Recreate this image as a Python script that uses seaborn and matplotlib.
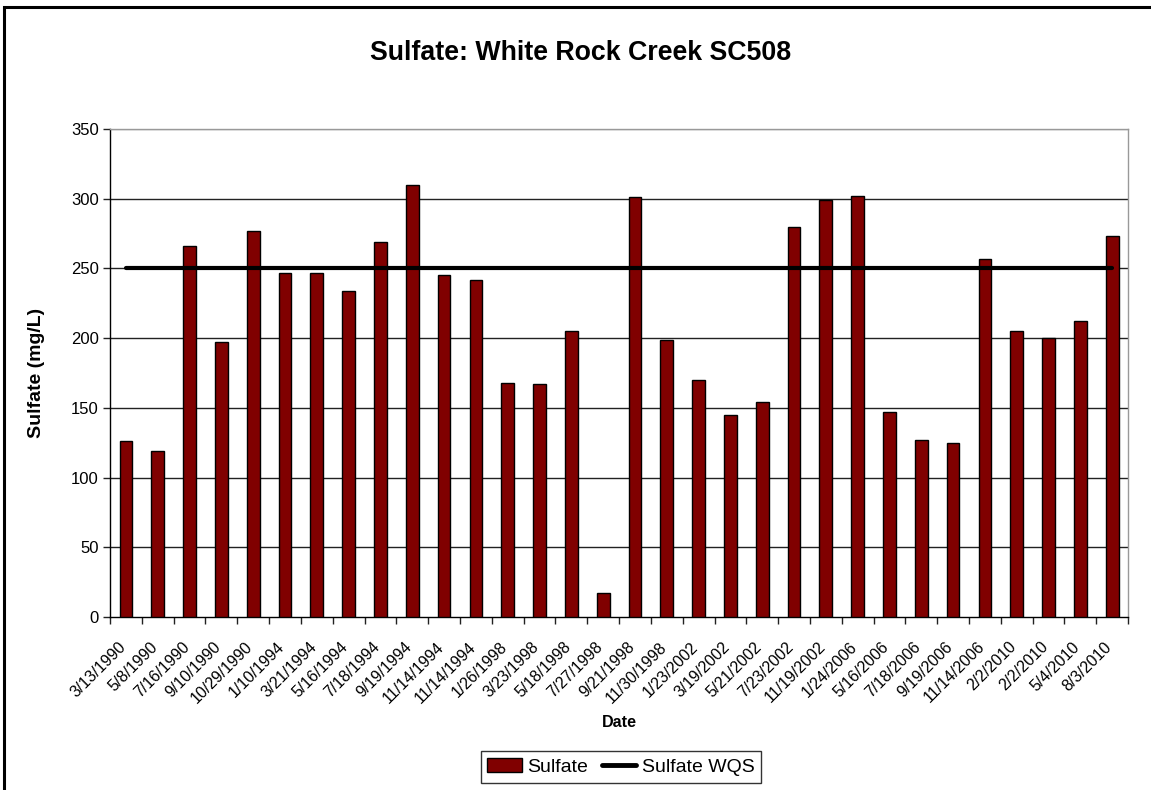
import numpy as np
import pandas as pd
import matplotlib
matplotlib.use('Agg')
import matplotlib.pyplot as plt
import matplotlib.transforms as mtransforms
from matplotlib.patches import Patch, Rectangle
from matplotlib.lines import Line2D
from matplotlib.ticker import FixedLocator, MultipleLocator
import seaborn as sns

# Sample dates (two of them repeat, so bars are placed by position, not by label)
dates = ['3/13/1990', '5/8/1990', '7/16/1990', '9/10/1990', '10/29/1990',
         '1/10/1994', '3/21/1994', '5/16/1994', '7/18/1994', '9/19/1994',
         '11/14/1994', '11/14/1994', '1/26/1998', '3/23/1998', '5/18/1998',
         '7/27/1998', '9/21/1998', '11/30/1998', '1/23/2002', '3/19/2002',
         '5/21/2002', '7/23/2002', '11/19/2002', '1/24/2006', '5/16/2006',
         '7/18/2006', '9/19/2006', '11/14/2006', '2/2/2010', '2/2/2010',
         '5/4/2010', '8/3/2010']
sulfate = [126, 119, 266, 197, 277, 247, 247, 234, 269, 310,
           245, 242, 168, 167, 205, 17, 301, 199, 170, 145,
           154, 280, 299, 302, 147, 127, 125, 257, 205, 200,
           212, 273]
wqs = 250

sns.set_style('white')
plt.rcParams['font.family'] = ['Liberation Sans', 'DejaVu Sans']
plt.rcParams['text.color'] = 'black'
plt.rcParams['axes.labelcolor'] = 'black'
plt.rcParams['xtick.color'] = 'black'
plt.rcParams['ytick.color'] = 'black'

df = pd.DataFrame({'pos': np.arange(len(dates)), 'date': dates, 'sulfate': sulfate})

fig = plt.figure(figsize=(11.51, 7.9), dpi=100)
ax = fig.add_axes([0.0956, 0.219, 0.8845, 0.6177])

# Bars
sns.barplot(data=df, x='pos', y='sulfate', color='#800000', width=0.4,
            edgecolor='black', linewidth=1, saturation=1, ax=ax, zorder=3)

# Water quality standard line, from first to last sample
ax.plot([df['pos'].iloc[0], df['pos'].iloc[-1]], [wqs, wqs], color='black',
        linewidth=3, solid_capstyle='round', zorder=4)

ax.set_xlim(-0.5, len(dates) - 0.5)
ax.set_ylim(0, 350)
ax.yaxis.set_major_locator(MultipleLocator(50))

# gridlines
for v in range(50, 351, 50):
    ax.axhline(v, color='#999999' if v == 350 else '#222222', linewidth=1, zorder=1)

# x labels at bar centres, tick marks between categories
ax.set_xticks(df['pos'])
ax.xaxis.set_minor_locator(FixedLocator(np.arange(-0.5, len(dates), 1)))
ax.tick_params(axis='x', which='major', length=0, pad=16)
ax.tick_params(axis='x', which='minor', length=5, width=1, color='#222222', direction='out', bottom=True)
ax.tick_params(axis='y', length=5, width=1, color='#222222', direction='out', left=True,
               labelsize=12, pad=3)
ax.set_xticklabels(df['date'], rotation=45, ha='right', va='top',
                   rotation_mode='anchor', fontsize=11.5)
# nudge the rotated labels left (after tick_params, which resets transforms)
shift = mtransforms.ScaledTranslation(-8 / 100, 0, fig.dpi_scale_trans)
for lab in ax.get_xticklabels():
    lab.set_transform(lab.get_transform() + shift)

for side in ['top', 'right']:
    ax.spines[side].set_color('#999999')
    ax.spines[side].set_linewidth(1)
for side in ['left', 'bottom']:
    ax.spines[side].set_color('black')
    ax.spines[side].set_linewidth(1)

ax.set_xlabel('Date', fontsize=11.6, fontweight='bold')
ax.set_ylabel('Sulfate (mg/L)', fontsize=14, fontweight='bold')
ax.xaxis.set_label_coords(0.5, -0.217)
ax.xaxis.label.set_va('center')
ax.yaxis.set_label_coords(-0.0727, 0.5)
ax.yaxis.label.set_va('center')

fig.text(0.504, 0.933, 'Sulfate: White Rock Creek SC508', ha='center', va='center',
         fontsize=19.3, fontweight='bold')

# legend
handles = [Patch(facecolor='#800000', edgecolor='black', linewidth=1),
           Line2D([0], [0], color='black', linewidth=3.5)]
leg = fig.legend(handles, ['Sulfate', 'Sulfate WQS'], loc='center', ncol=2,
                 bbox_to_anchor=(0.5395, 0.0291), fontsize=14, frameon=True,
                 fancybox=False, edgecolor='black', handlelength=1.75,
                 handletextpad=0.3, columnspacing=0.7, borderpad=0.35,
                 borderaxespad=0)
leg.get_frame().set_linewidth(1)

# outer chart border (clipped by the page)
fig.patches.append(Rectangle((4 / 1151, -0.1), 1.2, 1.1 - 7 / 790, transform=fig.transFigure,
                             fill=False, edgecolor='black', linewidth=2.2))

fig.savefig('out.png', dpi=100)
